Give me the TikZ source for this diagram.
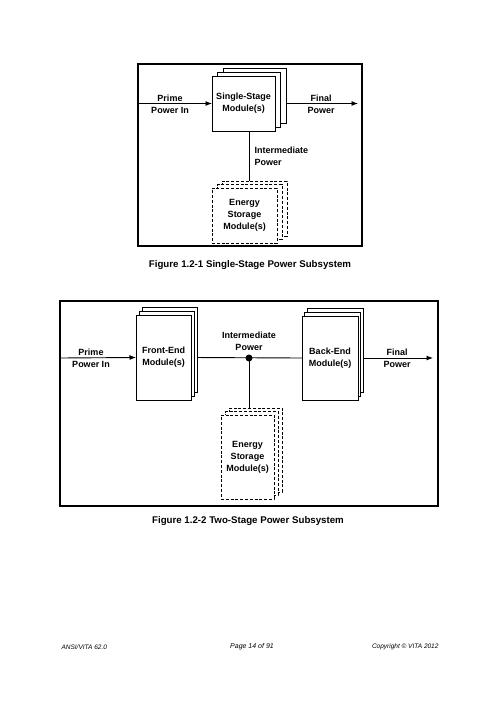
\documentclass[tikz,border=0pt]{standalone}
\usepackage{fontspec}
\setmainfont{Liberation Sans}
\usetikzlibrary{arrows.meta,shadows,backgrounds}
\tikzset{every node/.style={font=\fontsize{9}{12}\selectfont\bfseries}}
\begin{document}
\begin{tikzpicture}[x=1pt,y=-1pt,
    module/.style={draw,fill=white,line width=0.9pt,inner sep=0pt,outer sep=0pt,align=center},
    stack/.style={double copy shadow={shadow xshift=#1,shadow yshift=3.75pt,fill=white,draw,line width=0.8pt}},
    dstack/.style={dash pattern=on 3pt off 1.8pt,double copy shadow={shadow xshift=#1,shadow yshift=3.5pt,fill=white,draw,line width=0.8pt,dash pattern=on 3pt off 1.8pt}},
    wire/.style={line width=0.9pt},
    flow/.style={wire,-{Latex[length=6.5pt,width=5pt]}},
    tag/.style={align=center},
    caption/.style={font=\fontsize{9.7}{12}\selectfont\bfseries},
    foot/.style={font=\fontsize{6.5}{8}\selectfont\itshape}]
    \useasboundingbox (0,0) rectangle (499,706);

    % Figure 1.2-1
    \draw[line width=1.1pt] (138,64) rectangle (362,246);
    \node[module,stack=5.5pt,minimum width=63pt,minimum height=55pt] (ss) at (243.5,103.5) {Single-Stage\\Module(s)};
    \node[module,dstack=5pt,minimum width=65pt,minimum height=55pt] (es1) at (244.5,215.5) {Energy\\Storage\\Module(s)};
    \coordinate (in1) at (138,103.5);
    \coordinate (out1) at (358,103.5);
    \begin{scope}[on background layer]
        \draw[flow] (in1) -- (ss.west);
        \draw[flow] (ss.east) -- (out1);
        \draw[wire] ([xshift=5.5pt]ss.south) -- ([xshift=5.5pt]ss.south |- es1.north);
    \end{scope}
    \node[tag] (pin1) at (170,104) {Prime\\Power In};
    \node[tag] (fin1) at (321,104) {Final\\Power};
    \node[anchor=west,align=left] (ip1) at (251,156.5) {Intermediate\\Power};
    \node[caption] (cap1) at (250,265) {Figure 1.2-1 Single-Stage Power Subsystem};

    % Figure 1.2-2
    \draw[line width=1.1pt] (60,301) rectangle (438,506);
    \node[module,stack=3pt,minimum width=55pt,minimum height=85pt] (fe) at (163.5,357.5) {Front-End\\Module(s)};
    \node[module,stack=2.5pt,minimum width=56pt,minimum height=84pt] (be) at (330,358) {Back-End\\Module(s)};
    \node[module,dstack=4pt,minimum width=53pt,minimum height=84pt] (es2) at (247.5,457) {Energy\\Storage\\Module(s)};
    \coordinate (in2) at (60,358);
    \coordinate (out2) at (433,358);
    \coordinate (bus) at (249,358);
    \begin{scope}[on background layer]
        \draw[flow] (in2) -- (fe.west);
        \draw[wire] (fe.east) -- (be.west);
        \draw[flow] (be.east) -- (out2);
        \draw[wire] (bus) -- (bus |- es2.north);
    \end{scope}
    \fill (bus) circle (3.5);
    \node[tag] (pin2) at (91,358) {Prime\\Power In};
    \node[tag] (ip2) at (249,341) {Intermediate\\Power};
    \node[tag] (fin2) at (397,358) {Final\\Power};
    \node[caption] (cap2) at (248,521) {Figure 1.2-2 Two-Stage Power Subsystem};

    % page footer
    \node[foot,anchor=west] (std) at (58,647) {ANSI/VITA 62.0};
    \node[foot,font=\fontsize{7}{8}\selectfont\itshape] (pg) at (252,647) {Page 14 of 91};
    \node[foot,anchor=east] (copy) at (442,647) {Copyright © VITA 2012};
\end{tikzpicture}
\end{document}
